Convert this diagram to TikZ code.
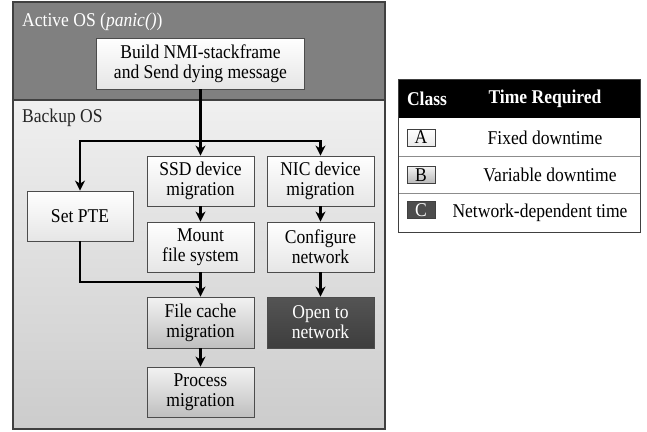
\documentclass[tikz,border=0pt]{standalone}
\usepackage{fontspec}
\setmainfont{Liberation Serif}[FakeStretch=0.9]
\usetikzlibrary{arrows.meta}
\begin{document}
\begin{tikzpicture}[x=1pt,y=-1pt,
  every node/.style={font=\fontsize{19.5}{20}\selectfont, align=center, inner sep=0pt},
  boxA/.style={draw=black!70, line width=0.8pt, top color=white, bottom color=black!10, minimum width=107pt, minimum height=50pt},
  boxB/.style={boxA, top color=black!5, bottom color=black!25},
  boxC/.style={boxA, top color=black!67, bottom color=black!76, text=white},
  conn/.style={line width=2.2pt},
  arr/.style={conn, -{Stealth[length=10pt,width=10pt,inset=3pt]}},
  keybox/.style={draw=black!75, line width=0.8pt, minimum width=28pt, minimum height=17pt},
]
\useasboundingbox (0,0) rectangle (647,431);
% panels
\path[fill=black!50, draw=black!75, line width=1.2pt] (13,2) rectangle (385,100);
\path[top color=black!6, bottom color=black!20, draw=black!75, line width=1.2pt] (13,100) rectangle (385,429);
\node[anchor=base west, text=white] (activeT) at (22,27) {Active OS (\textit{panic()})};
\node[anchor=base west, text=black!85] (backupT) at (22,122) {Backup OS};
% boxes
\node[boxA, minimum width=208pt, minimum height=51pt] (build) at (200.5,63.5) {Build NMI-stackframe\\and Send dying message};
\node[boxA, minimum width=106pt] (pte) at (80,216) {Set PTE};
\node[boxA] (ssd) at (200.5,181) {SSD device\\migration};
\node[boxA] (nic) at (320.5,181) {NIC device\\migration};
\node[boxA] (mount) at (200.5,247) {Mount\\file system};
\node[boxA] (conf) at (320.5,247) {Configure\\network};
\node[boxB, minimum height=51pt] (fcache) at (200.5,322.5) {File cache\\migration};
\node[boxC, minimum height=51pt] (open) at (320.5,322.5) {Open to\\network};
\node[boxB] (proc) at (200.5,392) {Process\\migration};
% connectors
\coordinate (split) at (200.5,141);
\coordinate (merge) at (200.5,282);
\draw[arr] (build.south) -- (ssd.north);
\draw[arr] (split) -| (pte.north);
\draw[arr] (split) -| (nic.north);
\draw[arr] (ssd) -- (mount);
\draw[arr] (nic) -- (conf);
\draw[arr] (mount) -- (fcache);
\draw[arr] (conf) -- (open);
\draw[arr] (fcache) -- (proc);
\draw[conn] (pte.south) |- (merge);
% legend
\path[fill=black] (398,79) rectangle (640,118);
\draw[black!45, line width=0.8pt] (398,156) -- (640,156) (398,193) -- (640,193);
\draw[black!75, line width=0.8pt] (398,79) rectangle (640,232);
\node[text=white, font=\fontsize{19.5}{20}\bfseries\selectfont] (hclass) at (427,99) {Class};
\node[text=white, font=\fontsize{19.5}{20}\bfseries\selectfont] (htime) at (545,99) {Time Required};
\node[keybox, top color=white, bottom color=black!8] (ka) at (421,137.5) {A};
\node[keybox, top color=black!5, bottom color=black!28] (kb) at (421,175) {B};
\node[keybox, fill=black!70, text=white] (kc) at (421,210) {C};
\node (ta) at (545,137.5) {Fixed downtime};
\node (tb) at (550,175) {Variable downtime};
\node (tc) at (540,212.5) {Network-dependent time};
\end{tikzpicture}
\end{document}
